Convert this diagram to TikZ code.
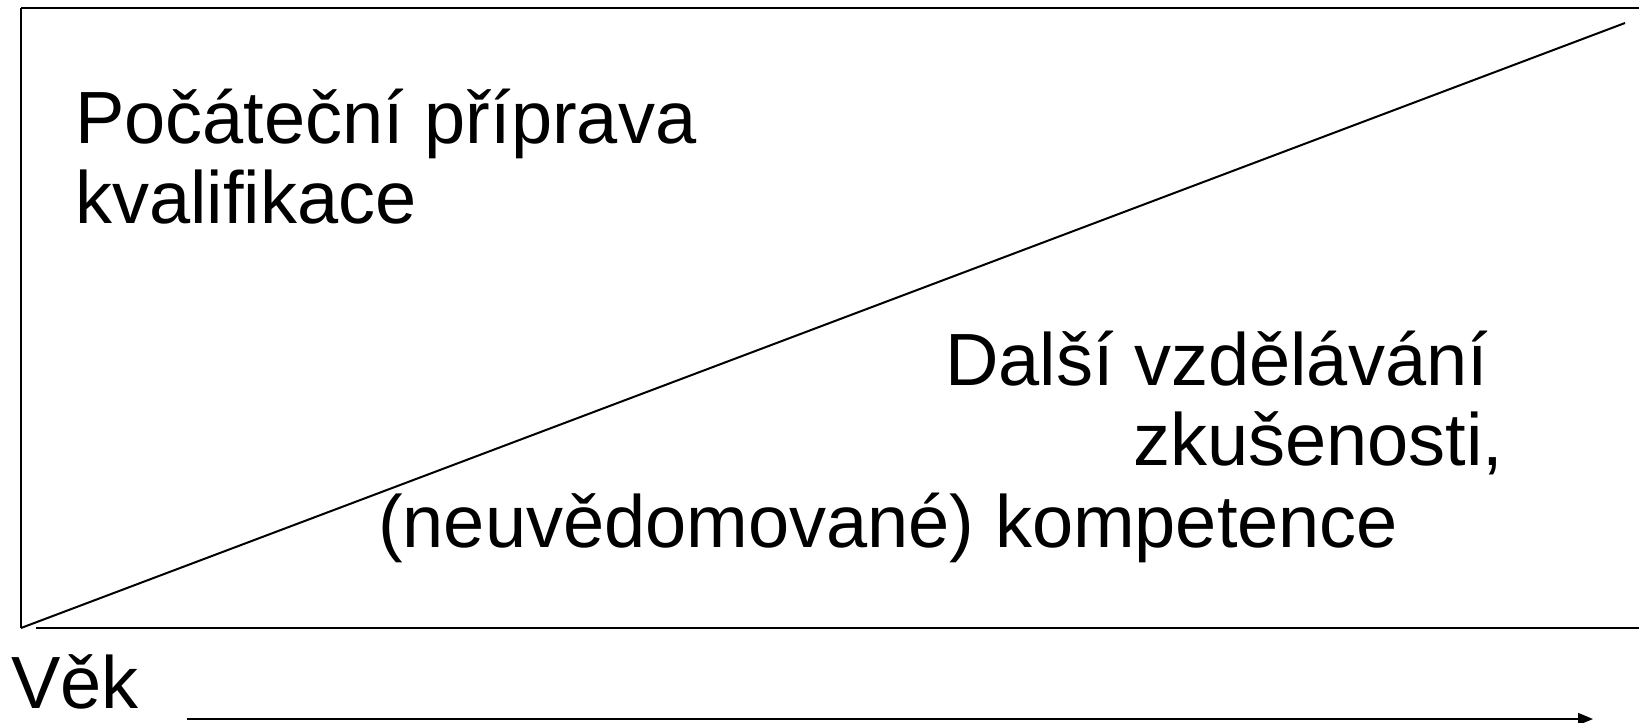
\documentclass[tikz,border=0pt]{standalone}
\usepackage{fontspec}
\setmainfont{Liberation Sans}
\usetikzlibrary{arrows.meta}
\tikzset{
  lbl/.style={anchor=base west, inner sep=0pt, font=\fontsize{74}{80}\selectfont},
  thickline/.style={line width=2.4pt},
  thinline/.style={line width=1.3pt},
}
\begin{document}
\begin{tikzpicture}[x=1pt,y=-1pt]
\useasboundingbox (0,0) rectangle (1639,723);
\coordinate (tl) at (21,8);
\coordinate (tr) at (1639,8);
\coordinate (bl) at (21,628);
\coordinate (bs) at (36,628);
\coordinate (br) at (1639,628);
\coordinate (diagend) at (1625,23);
\coordinate (arrs) at (187,719);
\coordinate (arre) at (1593,719);
\draw[thickline] (tl) -- (tr);
\draw[thinline] (tl) -- (bl);
\draw[thickline] (bs) -- (br);
\draw[line width=2pt] (bl) -- (diagend);
\draw[line width=1.6pt, -{Triangle[length=15pt,width=12pt]}] (arrs) -- (arre);
\node[lbl] (t1) at (75,143) {Počáteční příprava};
\node[lbl] (t2) at (75,223) {kvalifikace};
\node[lbl] (t3) at (945,385) {Další vzdělávání};
\node[lbl] (t4) at (1133,465) {zkušenosti,};
\node[lbl] (t5) at (378,547) {(neuvědomované) kompetence};
\node[lbl] (t6) at (11,708) {Věk};
\end{tikzpicture}
\end{document}
